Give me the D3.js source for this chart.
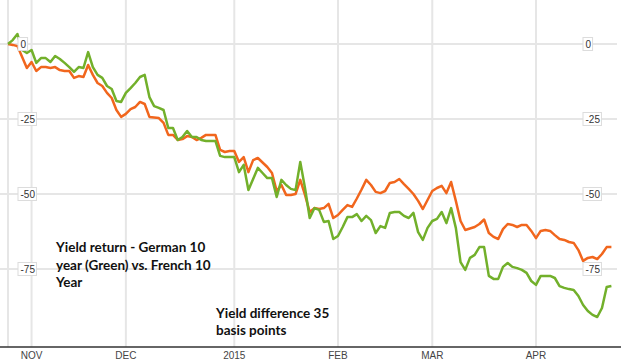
<!DOCTYPE html>
<html>
<head>
<meta charset="utf-8">
<script src="https://cdn.jsdelivr.net/npm/d3@7"></script>
<style>
  html, body { margin: 0; padding: 0; background: #fff; }
  svg { display: block; }
</style>
</head>
<body>
<svg id="chart" width="631" height="361"></svg>
<script>
// ---- Data (trading days, 27 Oct 2014 – 23 Apr 2015) ----
const startDate = "2014-10-27";
const endDate = "2015-04-23";

// German 10 year yield return (green), basis points
const germanValues = [
  0, 1.3, 3.3, -2, -3, -2, -6.3, -4.7, -4.7, -6, -4, -5, -6.3, -7.7, -9.3, -7.7, -8, -2.7, -7.7, -10.3,
  -11.3, -14, -15, -19, -19.3, -16.3, -14.7, -13, -11, -10.3, -17.7, -20.7, -21.3, -22, -28, -28, -32, -31, -29, -31,
  -31, -32, -32.3, -32.3, -32.3, -37.3, -37.7, -37.7, -37.7, -42.7, -40.3, -48.7, -45, -41.3, -43, -44.7, -44.7, -51, -45.3, -47,
  -48.3, -48.7, -39.3, -48, -58, -54.7, -55.3, -59.3, -59, -65, -64, -61, -57.7, -57.7, -56.7, -59, -57.3, -58.7, -63, -60.7,
  -61.3, -56.3, -56, -56, -57.3, -58, -56.3, -62.7, -65.3, -61.3, -59, -58.3, -56, -59.7, -54.7, -61.3, -72.7, -75.3, -71.3, -70.3,
  -67.7, -67.7, -77.3, -78.3, -78.3, -74.3, -73, -74.3, -74.7, -75.3, -76.3, -79, -80.3, -77.3, -77.3, -77.3, -78, -80.7, -81.3, -81.7,
  -82, -84, -87, -89, -90.3, -91, -88, -81, -80.7
];

// French 10 year yield return (orange), basis points
const frenchValues = [
  0, -0.3, -0.7, -4.3, -8, -6, -9, -7.7, -7.7, -8, -7.7, -8.7, -9, -9, -11.3, -10.7, -11, -7, -10.3, -13,
  -14, -16.3, -18, -22, -24.3, -23.3, -21.7, -21, -19.3, -20, -24.3, -24.5, -24.7, -26.3, -30.3, -30.3, -32, -31.7, -30.7, -31,
  -32, -31.3, -30.3, -30.3, -30.3, -35.3, -36, -35.7, -35.7, -39.3, -37.7, -42.7, -38.7, -38, -39.5, -41, -43, -49, -47, -50.3,
  -50.3, -50, -45.3, -50.3, -56, -54.7, -55, -54.7, -53.3, -58, -57, -55.3, -53.7, -54.3, -51.5, -48.5, -45.3, -47, -49.3, -49.7,
  -49, -46.3, -46, -45, -46.7, -48.3, -50, -52.3, -55, -52, -49, -48, -47.3, -49.7, -46, -52.3, -59, -62, -61.5, -61,
  -60, -58.5, -63, -64.3, -65, -61.7, -60, -60.3, -61, -60.3, -60.3, -62.3, -64.7, -62.3, -62, -62.3, -63.7, -65, -65.3, -66,
  -66.3, -68.7, -72.3, -71.3, -71, -71.7, -70, -67.7, -67.7
];

const yTicks = [0, -25, -50, -75];
const monthLabels = ["NOV", "DEC", "2015", "FEB", "MAR", "APR"];
const annotation1 = ["Yield return - German 10", "year (Green) vs. French 10", "Year"];
const annotation2 = ["Yield difference 35", "basis points"];

const colors = { german: "#72b02b", french: "#f1661d", grid: "#e6e6e6" };

// ---- Build trading-day categories ----
const parse = d3.timeParse("%Y-%m-%d");
const fmt = d3.timeFormat("%Y-%m-%d");
const days = d3.timeDay.range(parse(startDate), d3.timeDay.offset(parse(endDate), 1))
  .filter(d => d.getDay() !== 0 && d.getDay() !== 6);
const dayKeys = days.map(fmt);

// first trading day of each month
const monthStarts = days.filter((d, i) => i > 0 && d.getMonth() !== days[i - 1].getMonth()).map(fmt);

const svg = d3.select("#chart");
const W = 631, H = 361;

const x = d3.scalePoint().domain(dayKeys).range([8, 611.4]);
const y = d3.scaleLinear().domain([0, -75]).range([44, 269]);
const axisY = 347;
const plotRight = 617;

// Horizontal gridlines
svg.append("g").selectAll("line").data(yTicks).join("line")
  .attr("x1", 0).attr("x2", plotRight)
  .attr("y1", d => y(d)).attr("y2", d => y(d))
  .attr("stroke", colors.grid).attr("stroke-width", 2);

// Vertical gridlines (start + month starts)
svg.append("g").selectAll("line").data([dayKeys[0], ...monthStarts]).join("line")
  .attr("x1", d => x(d)).attr("x2", d => x(d))
  .attr("y1", 0).attr("y2", axisY)
  .attr("stroke", colors.grid).attr("stroke-width", 2);

// Lines
const mk = vals => dayKeys.map((k, i) => ({ k, v: vals[i] }));
const line = d3.line().x(d => x(d.k)).y(d => y(d.v));

svg.append("path").datum(mk(frenchValues))
  .attr("d", line).attr("fill", "none")
  .attr("stroke", colors.french).attr("stroke-width", 2.5).attr("stroke-linejoin", "round");
svg.append("path").datum(mk(germanValues))
  .attr("d", line).attr("fill", "none")
  .attr("stroke", colors.german).attr("stroke-width", 2.5).attr("stroke-linejoin", "round");

// Bottom axis line
svg.append("line").attr("x1", 0).attr("x2", 621).attr("y1", axisY).attr("y2", axisY)
  .attr("stroke", "#333").attr("stroke-width", 1.5);

// Month labels
svg.append("g").selectAll("text").data(monthStarts).join("text")
  .attr("x", d => x(d)).attr("y", axisY + 12)
  .attr("text-anchor", "middle")
  .attr("font-family", "'Liberation Sans', Arial, sans-serif")
  .attr("font-size", 10).attr("fill", "#444")
  .text((d, i) => monthLabels[i]);

// Y labels (boxed), left and right
function yLabels(x0) {
  const g = svg.append("g");
  yTicks.forEach(t => {
    const txt = g.append("text")
      .attr("x", x0 + 2).attr("y", y(t) + 3.5)
      .attr("font-family", "'Liberation Sans', Arial, sans-serif")
      .attr("font-size", 10).attr("fill", "#333")
      .text(String(t));
    const w = txt.node().getComputedTextLength();
    g.insert("rect", "text")
      .attr("x", x0 - 0.5).attr("y", y(t) - 6.5)
      .attr("width", w + 4).attr("height", 13)
      .attr("fill", "#fff").attr("stroke", "#dcdcdc").attr("stroke-width", 1);
  });
}
yLabels(18.5);
yLabels(583.5);

// Annotations
const annFont = "Lato, 'Open Sans', sans-serif";
svg.append("g").selectAll("text").data(annotation1).join("text")
  .attr("x", 56).attr("y", (d, i) => 252 + i * 17.5)
  .attr("font-family", annFont).attr("font-weight", 700).attr("font-size", 13.5)
  .attr("fill", "#111").text(d => d);
svg.append("g").selectAll("text").data(annotation2).join("text")
  .attr("x", 216).attr("y", (d, i) => 318 + i * 17)
  .attr("font-family", annFont).attr("font-weight", 700).attr("font-size", 13.5)
  .attr("fill", "#111").text(d => d);
</script>
</body>
</html>
